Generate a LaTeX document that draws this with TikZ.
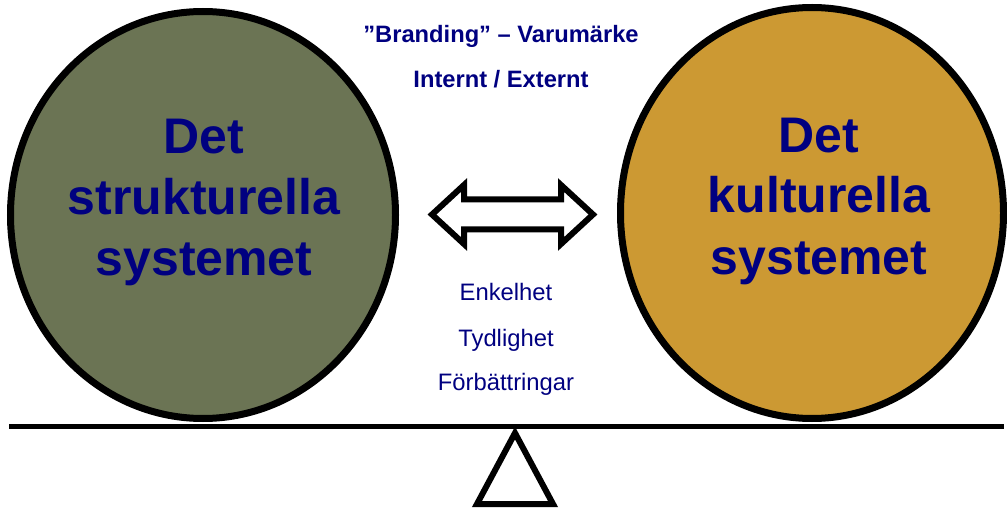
\documentclass[tikz,border=0pt]{standalone}
\usepackage{fontspec}
\setmainfont{Liberation Sans}
\usetikzlibrary{shapes.geometric}
\definecolor{navytext}{RGB}{0,0,128}
\definecolor{olivefill}{RGB}{107,116,84}
\definecolor{goldfill}{RGB}{204,153,51}
\tikzset{
  system/.style={ellipse, draw=black, line width=7pt, inner sep=0pt},
  bigline/.style={anchor=base, text=navytext, inner sep=0pt,
    font=\fontsize{50}{61}\selectfont\bfseries},
  headline/.style={anchor=base, text=navytext, inner sep=0pt,
    font=\fontsize{23.7}{28}\selectfont\bfseries},
  smallline/.style={anchor=base, text=navytext, inner sep=0pt,
    font=\fontsize{23.8}{28}\selectfont},
  outline/.style={draw=black, line width=6pt, miter limit=10, line join=miter}
}
\begin{document}
\begin{tikzpicture}[x=1pt,y=-1pt]
\useasboundingbox (0,0) rectangle (1007,513);
% the two systems
\node[system, fill=olivefill, minimum width=385pt, minimum height=407pt] (struct) at (203,215) {};
\node[system, fill=goldfill, minimum width=383pt, minimum height=411pt] (kult) at (812,213) {};
\node[bigline] (s1) at (204,154) {Det};
\node[bigline] (s2) at (204,215) {strukturella};
\node[bigline] (s3) at (204,276) {systemet};
\node[bigline] (k1) at (819,153) {Det};
\node[bigline] (k2) at (819,213) {kulturella};
\node[bigline] (k3) at (819,274) {systemet};
% heading between the systems
\node[headline] (brand) at (501,43) {”Branding” – Varumärke};
\node[headline] (intext) at (501,88) {Internt / Externt};
% double-headed block arrow
\draw[outline, fill=white] (432,214.5) -- (464,185) -- (464,199.5) -- (561,199.5) -- (561,185)
  -- (593,214.5) -- (561,244) -- (561,229.5) -- (464,229.5) -- (464,244) -- cycle;
% keywords
\node[smallline] (w1) at (506,301) {Enkelhet};
\node[smallline] (w2) at (506,346) {Tydlighet};
\node[smallline] (w3) at (506,390) {Förbättringar};
% balance beam and fulcrum
\coordinate (beamL) at (9,426.5);
\coordinate (beamR) at (1004,426.5);
\draw[line width=5pt] (beamL) -- (beamR);
\coordinate (apex) at (515,433);
\coordinate (baseL) at (477,504);
\coordinate (baseR) at (553,504);
\draw[outline] (apex) -- (baseR) -- (baseL) -- cycle;
\end{tikzpicture}
\end{document}
